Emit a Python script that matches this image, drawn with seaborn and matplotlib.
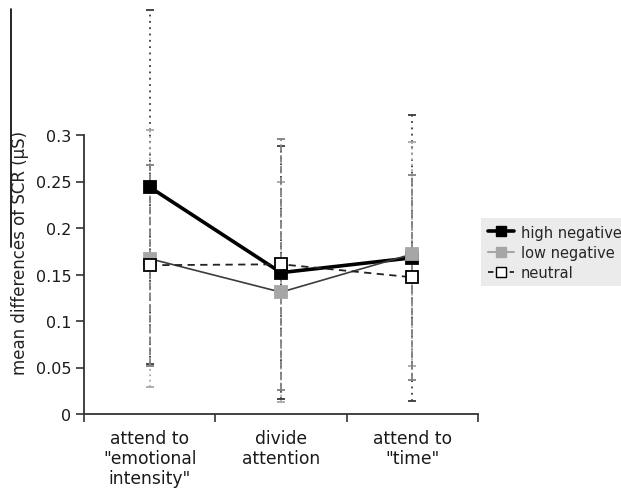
import matplotlib
matplotlib.use("Agg")
import matplotlib.pyplot as plt
import matplotlib.lines as mlines
import numpy as np
import pandas as pd
import seaborn as sns

# data
conditions = ['attend to\n"emotional\nintensity"', "divide\nattention", 'attend to\n"time"']
series_names = ["high negative", "low negative", "neutral"]
high_negative = [0.244, 0.152, 0.168]
low_negative = [0.167, 0.131, 0.172]
neutral = [0.160, 0.161, 0.147]
high_negative_err = [0.190, 0.136, 0.154]
low_negative_err = [0.138, 0.118, 0.120]
neutral_err = [0.108, 0.135, 0.110]
y_ticks = [0, 0.05, 0.1, 0.15, 0.2, 0.25, 0.3]
y_tick_labels = ["0", "0.05", "0.1", "0.15", "0.2", "0.25", "0.3"]

df = pd.DataFrame({
    "pos": np.tile(np.arange(len(conditions)), 3),
    "value": high_negative + low_negative + neutral,
    "err": high_negative_err + low_negative_err + neutral_err,
    "series": np.repeat(series_names, len(conditions)),
})

sns.set_theme(style="white")
plt.rcParams["font.family"] = ["DejaVu Sans"]

fig = plt.figure(figsize=(6.21, 4.89), dpi=100)
ax = fig.add_axes([84 / 621, 74 / 489, 394 / 621, 279 / 489])

styles = {
    "high negative": dict(line=dict(color="black", lw=2.6, ls="-"),
                          marker=dict(mfc="black", mec="black"),
                          err=dict(color="#3a3a3a", ls=(0, (1, 2.5)))),
    "low negative": dict(line=dict(color="#3c3c3c", lw=1.2, ls="-"),
                         marker=dict(mfc="#a6a6a6", mec="#a6a6a6"),
                         err=dict(color="#a8a8a8", ls=(0, (1, 2)))),
    "neutral": dict(line=dict(color="#222222", lw=1.3, ls=(0, (4, 3))),
                    marker=dict(mfc="white", mec="black"),
                    err=dict(color="#808080", ls=(0, (4, 2)))),
}

# error bars first so the lines sit on top
for name in series_names:
    sub = df[df["series"] == name]
    st = styles[name]["err"]
    eb = ax.errorbar(sub["pos"], sub["value"], yerr=sub["err"], fmt="none",
                     ecolor=st["color"], elinewidth=1.3, capsize=3, capthick=1.3,
                     clip_on=False, zorder=2)
    for coll in eb[2]:
        coll.set_linestyle(st["ls"])
        coll.set_clip_on(False)
    for cap in eb[1]:
        cap.set_clip_on(False)

for name in series_names:
    sub = df[df["series"] == name]
    st = styles[name]
    sns.lineplot(data=sub, x="pos", y="value", ax=ax, color=st["line"]["color"],
                 lw=st["line"]["lw"], linestyle=st["line"]["ls"], legend=False,
                 zorder=3, errorbar=None)
    ax.plot(sub["pos"], sub["value"], ls="none", marker="s", ms=8.5,
            mew=1.3, zorder=4, clip_on=False, **st["marker"])

ax.set_xlim(-0.5, 2.5)
ax.set_ylim(0, 0.3)
ax.set_xticks([-0.5, 0.5, 1.5, 2.5])
ax.set_xticklabels([])
ax.set_xticks(range(len(conditions)), minor=True)
ax.set_xticklabels(conditions, minor=True, fontsize=12.3, linespacing=1.15,
                   color="#1a1a1a")
ax.tick_params(axis="x", which="minor", length=0, pad=11)
ax.tick_params(axis="x", which="major", direction="out", length=6, width=1.2,
               color="#333333", bottom=True)
ax.set_yticks(y_ticks)
ax.set_yticklabels(y_tick_labels, fontsize=11.5, color="#1a1a1a")
ax.tick_params(axis="y", direction="out", length=6, width=1.2, color="#333333",
               left=True, pad=3)
ax.set_xlabel("")
ax.set_ylabel("")
for side in ["top", "right"]:
    ax.spines[side].set_visible(False)
for side in ["left", "bottom"]:
    ax.spines[side].set_color("#333333")
    ax.spines[side].set_linewidth(1.3)

fig.text(20 / 621, 1 - 253 / 489, "mean differences of SCR (μS)", rotation=90,
         ha="center", va="center", fontsize=12, color="#222222")

# stray border line at the left edge of the reference
fig.add_artist(mlines.Line2D([10.5 / 621, 10.5 / 621], [1 - 10 / 489, 1 - 248 / 489],
                             color="black", lw=1.2))

handles = [
    mlines.Line2D([], [], color="black", lw=2.6, marker="s", ms=7, mfc="black", mec="black"),
    mlines.Line2D([], [], color="#a6a6a6", lw=1.5, marker="s", ms=7, mfc="#a6a6a6", mec="#a6a6a6"),
    mlines.Line2D([], [], color="#222222", lw=1.3, ls=(0, (3, 3)), marker="s", ms=7,
                  mfc="white", mec="black"),
]
leg = fig.legend(handles, series_names, loc="upper left",
                 bbox_to_anchor=(481 / 621, 1 - 219 / 489), fontsize=10.5,
                 frameon=True, fancybox=False, handlelength=1.8, handletextpad=0.5,
                 borderpad=0.45, labelspacing=0.35, borderaxespad=0)
leg.get_frame().set_facecolor("#e6e6e6")
leg.get_frame().set_edgecolor("none")

fig.savefig("out.png", dpi=100)
